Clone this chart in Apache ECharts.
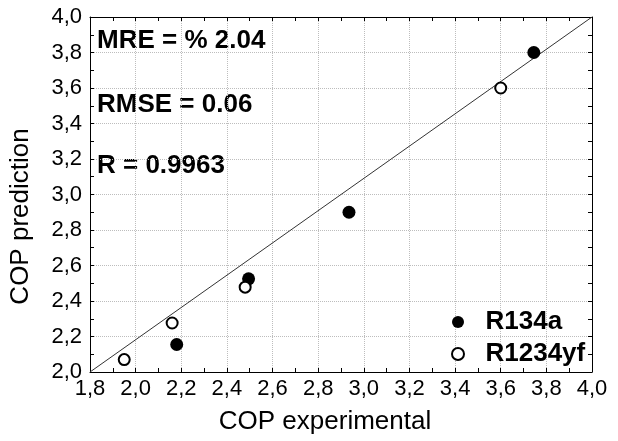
<!DOCTYPE html>
<html>
<head>
<meta charset="utf-8">
<script src="https://cdn.jsdelivr.net/npm/echarts@6/dist/echarts.min.js"></script>
<style>
html,body{margin:0;padding:0;background:#fff;}
#chart{width:618px;height:441px;}
</style>
</head>
<body>
<div id="chart"></div>
<script>
// Data
const r134aX = [2.18, 2.495, 2.935, 3.745];
const r134aY = [2.155, 2.525, 2.90, 3.80];
const r1234yfX = [1.95, 2.16, 2.48, 3.60];
const r1234yfY = [2.07, 2.276, 2.478, 3.60];
const diagX = [1.8, 4.0];
const diagY = [2.0, 4.0];
const statTexts = ['MRE = % 2.04', 'RMSE = 0.06', 'R = 0.9963'];
const xRange = [1.8, 4.0];
const yRange = [2.0, 4.0];
const tickStep = 0.2;

const FONT = '"Liberation Sans", Arial, sans-serif';
const fmt = v => v.toFixed(1).replace('.', ',');
const pairs = (xs, ys) => xs.map((x, i) => [x, ys[i]]);

const tickCommon = {
  axisLine: { show: true, lineStyle: { color: '#000', width: 1 } },
  axisTick: { show: true, inside: true, length: 4, lineStyle: { color: '#000' } },
  minorTick: { show: true, splitNumber: 2, length: 4, lineStyle: { color: '#000' } }
};

const chart = echarts.init(document.getElementById('chart'));
chart.setOption({
  animation: false,
  backgroundColor: '#fff',
  grid: { left: 90, right: 26, top: 17, bottom: 69, containLabel: false },
  xAxis: [
    Object.assign({
      type: 'value', min: xRange[0], max: xRange[1], interval: tickStep,
      position: 'bottom',
      name: 'COP experimental', nameLocation: 'middle', nameGap: 37,
      nameTextStyle: { fontFamily: FONT, fontSize: 26, color: '#000', padding: [0, 32, 0, 0] },
      axisLabel: { formatter: fmt, fontFamily: FONT, fontSize: 22, color: '#000', margin: 6 },
      splitLine: { show: true, lineStyle: { color: '#bdbdbd', type: 'dotted', width: 1 } }
    }, tickCommon),
    Object.assign({
      type: 'value', min: xRange[0], max: xRange[1], interval: tickStep,
      position: 'top', axisLabel: { show: false }, splitLine: { show: false }
    }, tickCommon)
  ],
  yAxis: [
    Object.assign({
      type: 'value', min: yRange[0], max: yRange[1], interval: tickStep,
      position: 'left',
      name: 'COP prediction', nameLocation: 'middle', nameGap: 56,
      nameTextStyle: { fontFamily: FONT, fontSize: 26, color: '#000', padding: [0, 44, 0, 0] },
      axisLabel: { formatter: fmt, fontFamily: FONT, fontSize: 22, color: '#000', margin: 8 },
      splitLine: { show: true, lineStyle: { color: '#bdbdbd', type: 'dotted', width: 1 } }
    }, tickCommon),
    Object.assign({
      type: 'value', min: yRange[0], max: yRange[1], interval: tickStep,
      position: 'right', axisLabel: { show: false }, splitLine: { show: false }
    }, tickCommon)
  ],
  legend: {
    data: ['R134a', 'R1234yf'],
    orient: 'vertical', align: 'left', left: 451, top: 309, padding: 0,
    itemWidth: 45, itemHeight: 12, itemGap: 6,
    textStyle: { fontFamily: FONT, fontSize: 26, fontWeight: 'bold', color: '#000' }
  },
  graphic: statTexts.map((t, i) => ({
    type: 'text', left: 97, top: [28, 92, 153][i], silent: true,
    style: { text: t, fontFamily: FONT, fontSize: 26, fontWeight: 'bold', fill: '#000' }
  })),
  series: [
    {
      type: 'line', data: pairs(diagX, diagY), symbol: 'none', silent: true,
      lineStyle: { color: '#333', width: 1 }, z: 1
    },
    {
      name: 'R134a', type: 'scatter', data: pairs(r134aX, r134aY),
      symbol: 'circle', symbolSize: 13,
      itemStyle: { color: '#000', opacity: 1 }, z: 3
    },
    {
      name: 'R1234yf', type: 'scatter', data: pairs(r1234yfX, r1234yfY),
      symbol: 'circle', symbolSize: 11,
      itemStyle: { color: '#fff', borderColor: '#000', borderWidth: 2, opacity: 1 }, z: 3
    }
  ]
});
</script>
</body>
</html>
